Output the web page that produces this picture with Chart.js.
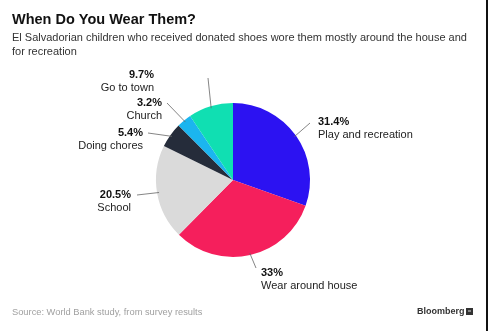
<!DOCTYPE html>
<html><head><meta charset="utf-8">
<script src="https://cdn.jsdelivr.net/npm/chart.js@4/dist/chart.umd.min.js"></script>
<style>
html,body{margin:0;padding:0;background:#fff;}
#wrap{position:relative;width:488px;height:331px;}
</style></head>
<body><div id="wrap"><canvas id="c" width="488" height="331"></canvas></div>
<script>
const categories = ["Play and recreation","Wear around house","School","Doing chores","Church","Go to town"];
const values = [31.4, 33, 20.5, 5.4, 3.2, 9.7];
const valueLabels = ["31.4%","33%","20.5%","5.4%","3.2%","9.7%"];
const colors = ["#2c12f2","#f51f5c","#dadada","#252c3a","#1bb5ef","#10dfb2"];

const FONT = "'Liberation Sans', Arial, Helvetica, sans-serif";
// label placement: [textX, textY(value line), align, lineOuterX, lineOuterY]
const labelPos = [
  [318,122,'left', 310,123],
  [261,273,'left', 256,268],
  [131,195,'right',137,195],
  [143,133,'right',148,133],
  [162,103,'right',167,103],
  [154,75,'right', 208,78]
];

const deco = {
  id:'deco',
  afterDraw(chart){
    const ctx = chart.ctx;
    ctx.save();
    ctx.textBaseline='middle';
    ctx.fillStyle='#111';
    ctx.font="bold 14.5px "+FONT;
    ctx.textAlign='left';
    ctx.fillText("When Do You Wear Them?",12,20);
    ctx.font="11px "+FONT;
    ctx.fillStyle='#333';
    ctx.fillText("El Salvadorian children who received donated shoes wore them mostly around the house and",12,38);
    ctx.fillText("for recreation",12,52);
    ctx.font="9.3px "+FONT;
    ctx.fillStyle='#a0a0a0';
    ctx.fillText("Source: World Bank study, from survey results",12,312);
    ctx.font="bold 9px "+FONT;
    ctx.fillStyle='#333';
    ctx.fillText("Bloomberg",417,312);
    ctx.fillRect(466,308,7,7);
    ctx.fillStyle='#888';
    ctx.fillRect(468,310,3,2);
    // right border
    ctx.fillStyle='#111';
    ctx.fillRect(486,0,2,331);

    // labels
    const meta = chart.getDatasetMeta(0);
    meta.data.forEach((arc,i)=>{
      const p = labelPos[i];
      const mid = (arc.startAngle+arc.endAngle)/2;
      const ex = arc.x + Math.cos(mid)*(arc.outerRadius-2);
      const ey = arc.y + Math.sin(mid)*(arc.outerRadius-2);
      ctx.strokeStyle='#666';
      ctx.lineWidth=0.8;
      ctx.beginPath();
      ctx.moveTo(p[3],p[4]);
      ctx.lineTo(ex,ey);
      ctx.stroke();
      ctx.textAlign=p[2];
      ctx.fillStyle='#111';
      ctx.font="bold 11px "+FONT;
      ctx.fillText(valueLabels[i],p[0],p[1]);
      ctx.font="11px "+FONT;
      ctx.fillStyle='#222';
      ctx.fillText(categories[i],p[0],p[1]+13);
    });
    ctx.restore();
  }
};

new Chart(document.getElementById('c'),{
  type:'pie',
  data:{labels:categories,datasets:[{data:values,backgroundColor:colors,borderWidth:0}]},
  options:{
    responsive:false,animation:false,
    layout:{padding:{left:156,right:178,top:103,bottom:74}},
    plugins:{legend:{display:false},tooltip:{enabled:false}}
  },
  plugins:[deco]
});
</script></body></html>
